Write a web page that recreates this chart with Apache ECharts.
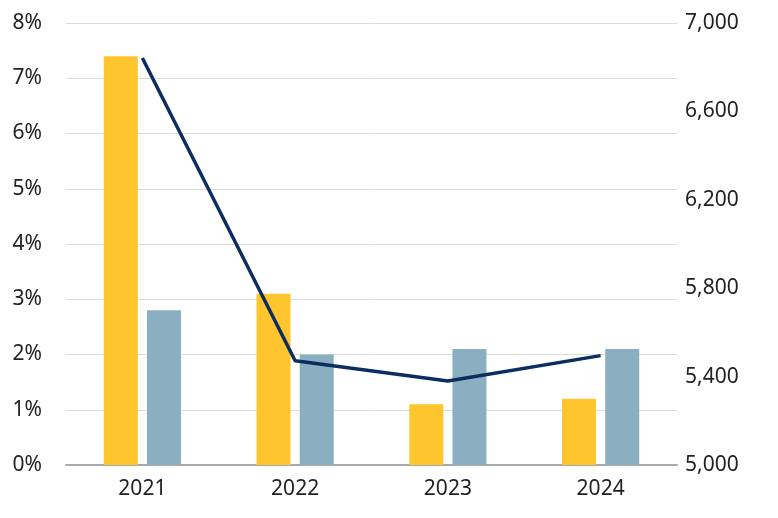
<!DOCTYPE html>
<html><head><meta charset="utf-8">
<script src="https://cdn.jsdelivr.net/npm/echarts@6/dist/echarts.min.js"></script>
<style>html,body{margin:0;background:#fff}#c{width:778px;height:518px}</style>
</head><body><div id="c"></div>
<script>
const categories = ['2021','2022','2023','2024'];
const yellowValues = [7.4, 3.1, 1.1, 1.2];
const blueValues = [2.8, 2.0, 2.1, 2.1];
const lineValues = [6842, 5472, 5380, 5495];
const font = 'Noto Sans';
const chart = echarts.init(document.getElementById('c'));
chart.setOption({
  animation: false,
  grid: {left: 66, right: 101, top: 23, bottom: 53},
  xAxis: {type: 'category', data: categories,
    axisLine: {lineStyle: {color: '#aaa', width: 2}}, axisTick: {show: false},
    axisLabel: {color: '#222', fontSize: 21, fontFamily: font, margin: 14}},
  yAxis: [
    {type: 'value', min: 0, max: 8, interval: 1,
     axisLabel: {formatter: '{value}%', color: '#222', fontSize: 21, fontFamily: font, margin: 24},
     splitLine: {lineStyle: {color: '#dcdcdc'}}},
    {type: 'value', min: 5000, max: 7000, interval: 400, splitLine: {show: false},
     axisLabel: {formatter: v => v.toLocaleString('en-US'), color: '#222', fontSize: 21, fontFamily: font, margin: 8}}
  ],
  series: [
    {type: 'bar', data: yellowValues, barWidth: 34, barGap: '27%', itemStyle: {color: '#FFC52F'}},
    {type: 'bar', data: blueValues, barWidth: 34, itemStyle: {color: '#8AAFC0'}},
    {type: 'line', yAxisIndex: 1, data: lineValues, symbol: 'none',
     lineStyle: {color: '#0C2D60', width: 3.5}}
  ]
});
</script></body></html>
